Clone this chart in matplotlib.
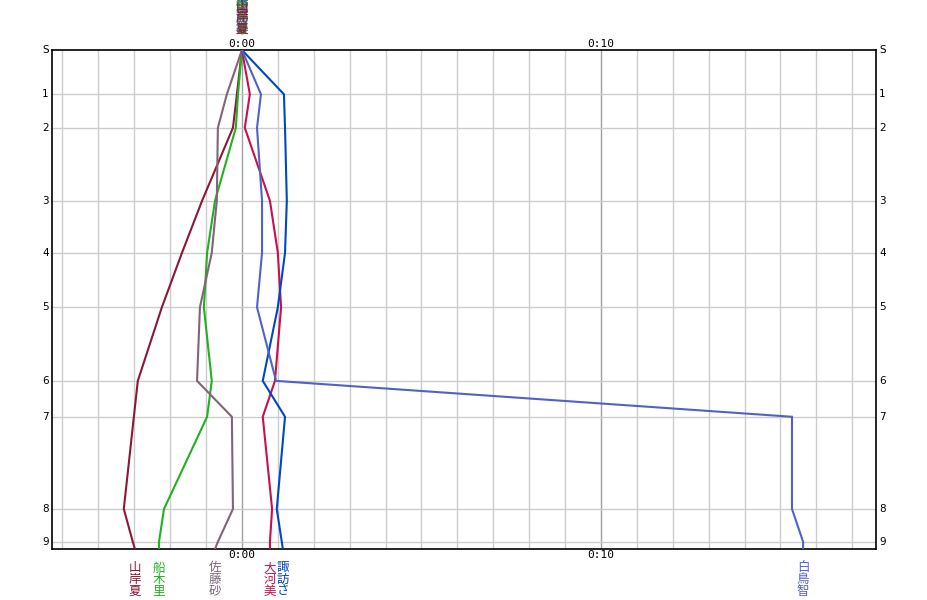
import matplotlib
matplotlib.use("Agg")
import matplotlib.pyplot as plt
import matplotlib.transforms as mtransforms

plt.rcParams["font.family"] = ["Noto Sans CJK JP", "DejaVu Sans"]

# --- data ---
# controls: label and reference cumulative time (s), last one is the finish
ctrl_labels = ["S", "1", "2", "3", "4", "5", "6", "7", "8", "9", ""]
ctrl_ref = [0, 74, 130, 252, 339, 430, 553, 613, 767, 822, 834]

names = ["山岸夏", "船木里", "佐藤砂", "大河美", "諏訪さ", "白鳥智"]
colors = ["#8c1838", "#22b022", "#806478", "#c8104c", "#0048c0", "#5062c8"]

# time behind reference at each control (minutes)
diff_yamagishi = [0, -0.14, -0.25, -1.11, -1.67, -2.23, -2.90, -3.01, -3.29, -3.04, -2.98]
diff_funaki = [0, -0.11, -0.17, -0.75, -0.97, -1.06, -0.84, -0.97, -2.17, -2.31, -2.31]
diff_sato = [0, -0.42, -0.67, -0.70, -0.84, -1.17, -1.25, -0.28, -0.25, -0.67, -0.75]
diff_okawa = [0, 0.22, 0.08, 0.78, 1.00, 1.09, 0.92, 0.58, 0.84, 0.78, 0.78]
diff_suwa = [0, 1.17, 1.20, 1.25, 1.20, 1.00, 0.58, 1.20, 0.97, 1.11, 1.14]
diff_shiratori = [0, 0.53, 0.42, 0.56, 0.56, 0.42, 0.95, 15.32, 15.32, 15.63, 15.63]
diffs = [diff_yamagishi, diff_funaki, diff_sato, diff_okawa, diff_suwa, diff_shiratori]

x_min, x_max = -5.29, 17.66

# --- figure ---
fig = plt.figure(figsize=(9.27, 6.0), dpi=100)
ax = fig.add_axes([52 / 927, 51 / 600, 824 / 927, 499 / 600])
ax.set_xlim(x_min, x_max)
ax.set_ylim(ctrl_ref[-1], 0)

# grid
for m in range(-5, 18):
    c = "#a0a0a0" if m in (0, 10) else "#cccccc"
    ax.axvline(m, color=c, lw=1, zorder=1)
for y in ctrl_ref[1:-1]:
    ax.axhline(y, color="#cccccc", lw=1, zorder=1)

for d, c in zip(diffs, colors):
    ax.plot(d, ctrl_ref, color=c, lw=1.5, zorder=3, solid_joinstyle="miter")

ax.set_xticks([])
ax.set_yticks([])
for s in ax.spines.values():
    s.set_color("black")
    s.set_linewidth(1.2)

# control labels both sides
for lab, y in zip(ctrl_labels[:-1], ctrl_ref[:-1]):
    ax.text(-0.004, y, lab, transform=ax.get_yaxis_transform(), ha="right", va="center",
            fontsize=7.5, family="DejaVu Sans")
    ax.text(1.004, y, lab, transform=ax.get_yaxis_transform(), ha="left", va="center",
            fontsize=7.5, family="DejaVu Sans")

# time labels top and bottom
for m, lab in [(0, "0:00"), (10, "0:10")]:
    ax.text(m, 1.002, lab, transform=ax.get_xaxis_transform(), ha="center", va="bottom",
            fontsize=8, family="DejaVu Sans Mono")
    ax.text(m, -0.002, lab, transform=ax.get_xaxis_transform(), ha="center", va="top",
            fontsize=8, family="DejaVu Sans Mono")

# runner names, written vertically (top ones overlap at the start)
tr = mtransforms.blended_transform_factory(ax.transData, fig.transFigure)
for name, d, c in zip(names, diffs, colors):
    for i, ch in enumerate(name):
        fig.text(d[-1], 1 - (568 + i * 11.5) / 600, ch, transform=tr, ha="center", va="center",
                 fontsize=9, color=c)
for name, d, c in reversed(list(zip(names, diffs, colors))):
    for i, ch in enumerate(name):
        fig.text(d[0], 1 - (6.5 + i * 11.5) / 600, ch, transform=tr, ha="center", va="center",
                 fontsize=9, color=c)

fig.savefig("out.png", dpi=100)
